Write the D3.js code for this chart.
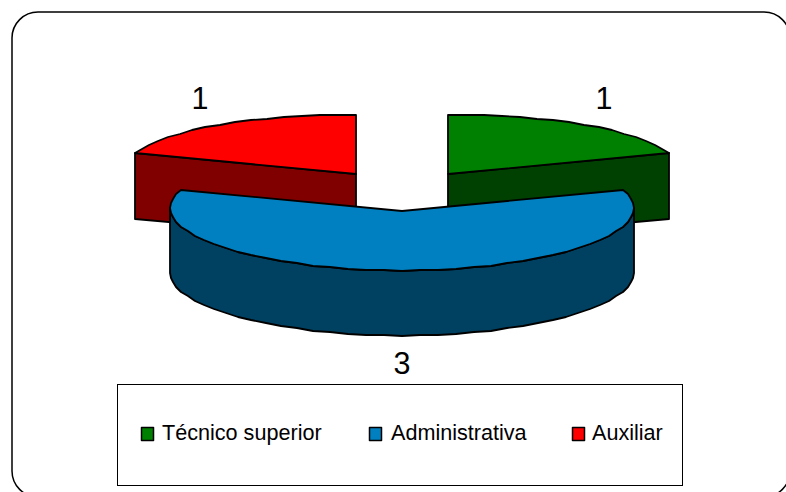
<!DOCTYPE html>
<html><head><meta charset="utf-8">
<script src="https://cdn.jsdelivr.net/npm/d3@7"></script>
<style>html,body{margin:0;padding:0;background:#fff;overflow:hidden}svg{display:block}text{font-family:"Liberation Sans",Arial,sans-serif;fill:#000}</style>
</head><body><svg id="c" width="786" height="492"></svg>
<script>
const categories = ["Técnico superior", "Administrativa", "Auxiliar"];
const values = [1, 3, 1];
const topColors = ["#008000", "#0080c0", "#ff0000"];
const sideColors = ["#004000", "#004060", "#800000"];

const svg = d3.select("#c");
const rx = 232, ry = 59.5, depth = 65, lift = 3;
const centers = [[448,174],[402,211],[356,174]];
const labelPos = [[604,108.5],[402,374],[200,108.5]];

svg.append("rect").attr("x",12).attr("y",12).attr("width",778).attr("height",485)
  .attr("rx",26).attr("ry",26).attr("fill","#fff").attr("stroke","#000").attr("stroke-width",1.5);

const arcs = d3.pie().sort(null).value(d=>d)(values);
// the source polygon has integer vertices: snap rim points to whole pixels
const pt = (c,a,dz=0)=>[Math.round(c[0]+rx*Math.sin(a)), Math.round(c[1]-ry*Math.cos(a)-lift*Math.sin(a)**2)+dz];
const line = d3.line();
const STEP = Math.PI/40;
function rim(c,a0,a1,dz=0){
  const n=Math.max(1,Math.round((a1-a0)/STEP));
  return d3.range(n+1).map(i=>pt(c,a0+(a1-a0)*i/n,dz));
}
function style(s,fill,w=1.8){ return s.attr("fill",fill).attr("stroke","#000").attr("stroke-width",w).attr("stroke-linejoin","round"); }

// draw order: back slices first, the large front slice last
[0,2,1].forEach(i=>{
  const a=arcs[i], c=centers[i], g=svg.append("g");
  if(i===1){
    const a0=Math.PI/2, a1=3*Math.PI/2;
    const top=rim(c,a0,a1), bot=rim(c,a0,a1,depth).reverse();
    style(g.append("path").attr("d",line(top.concat(bot))+"Z"),sideColors[i]);
  } else {
    // straight cut face of the slice, seen from the front
    const outer=i===0?a.endAngle:a.startAngle;
    const p=pt(c,outer);
    const poly=[c,p,[p[0],p[1]+depth+1],[c[0],c[1]+depth]];
    style(g.append("path").attr("d",line(poly)+"Z"),sideColors[i]);
  }
  const face=[c].concat(rim(c,a.startAngle,a.endAngle));
  style(g.append("path").attr("d",line(face)+"Z"),topColors[i]);
  svg.append("text").attr("x",labelPos[i][0]).attr("y",labelPos[i][1])
    .attr("text-anchor","middle").attr("font-size",30.5).text(values[i]);
});

// legend
const lg=svg.append("g");
lg.append("rect").attr("x",117.5).attr("y",384.5).attr("width",565).attr("height",101)
  .attr("fill","#fff").attr("stroke","#000").attr("stroke-width",1);
const swatchX=[141.5,369.5,572.5], textX=[162,391,592];
categories.forEach((n,i)=>{
  style(lg.append("rect").attr("x",swatchX[i]).attr("y",427.5).attr("width",12).attr("height",13),topColors[i],1.5);
  lg.append("text").attr("x",textX[i]).attr("y",440).attr("font-size",21.6).text(n);
});
</script></body></html>
